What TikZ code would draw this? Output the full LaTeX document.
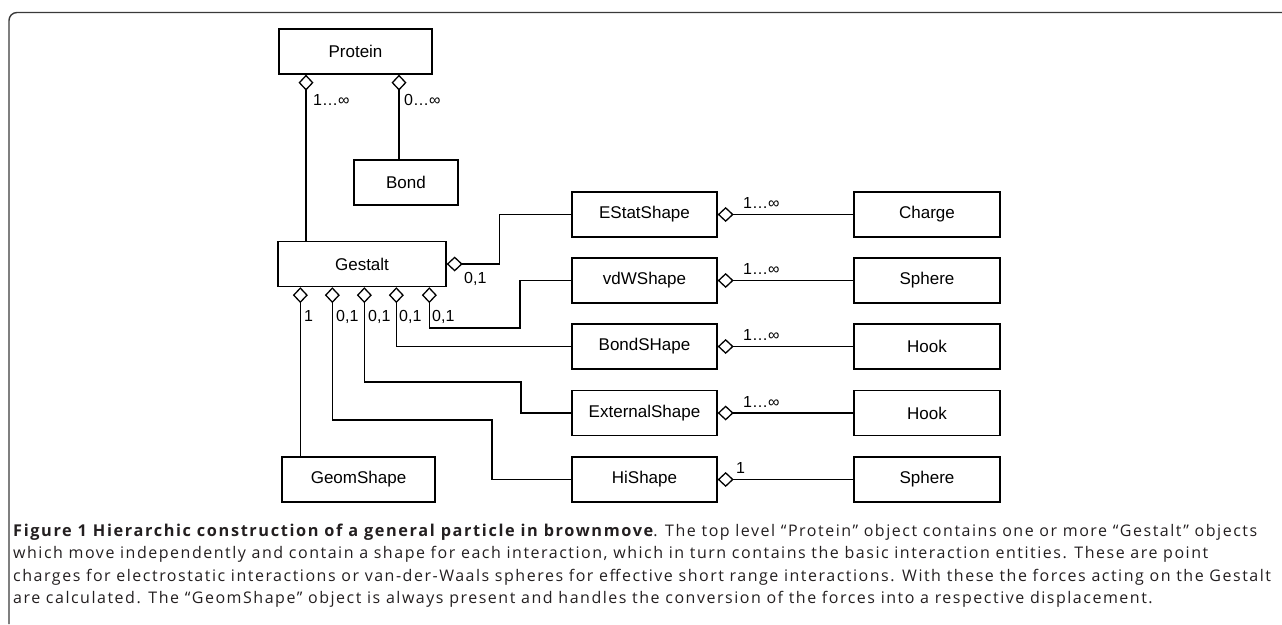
\documentclass[tikz,border=0pt]{standalone}
\usepackage{fontspec}
\setmainfont{Liberation Sans}
\newfontfamily\capfont[LetterSpace=9.5]{Open Sans}
\newfontfamily\capbold[LetterSpace=10]{Open Sans Bold}
\usetikzlibrary{arrows.meta}
\definecolor{framecol}{HTML}{3A3A3A}
\definecolor{captext}{HTML}{231F20}
\begin{document}
\begin{tikzpicture}[x=1pt,y=-1pt,
  box/.style={draw=black, line width=1.3pt, minimum height=45pt, inner sep=0pt, font=\fontsize{17}{20}\selectfont},
  agg/.style={line width=1.3pt, {Diamond[open,length=16pt,width=15pt]}-},
  lab/.style={font=\fontsize{16}{19}\selectfont, inner sep=0pt, anchor=base west},
  capline/.style={anchor=base west, inner sep=0pt, text=captext, font=\capfont\fontsize{16}{20}\selectfont}
]
\useasboundingbox (0,0) rectangle (1282,624);
% frame
\draw[framecol, line width=1.4pt, rounded corners=8pt] (9,624) -- (9,12.5) -- (1282,12.5);

% nodes
\node[box, minimum width=153pt] (protein) at (355.5,51.5) {Protein};
\node[box, minimum width=104pt] (bond) at (406,182.5) {Bond};
\node[box, minimum width=168pt] (gestalt) at (362,264) {Gestalt};
\node[box, minimum width=153pt] (geom) at (358.5,479.5) {GeomShape};

\node[box, minimum width=145pt] (estat) at (644.5,214.5) {EStatShape};
\node[box, minimum width=145pt] (vdw) at (644.5,280.5) {vdWShape};
\node[box, minimum width=145pt] (bshape) at (644.5,346.5) {BondSHape};
\node[box, minimum width=145pt] (ext) at (644.5,413) {ExternalShape};
\node[box, minimum width=145pt] (hi) at (644.5,479.5) {HiShape};

\node[box, minimum width=146pt] (charge) at (927,214.5) {Charge};
\node[box, minimum width=146pt] (sphereA) at (927,280.5) {Sphere};
\node[box, minimum width=146pt] (hookA) at (927,346.5) {Hook};
\node[box, minimum width=146pt] (hookB) at (927,413) {Hook};
\node[box, minimum width=146pt] (sphereB) at (927,479.5) {Sphere};

% connectors
\draw[agg] ([xshift=-49.5pt]protein.south) -- ([xshift=-49.5pt]protein.south |- gestalt.north);
\draw[agg] ([xshift=43.5pt]protein.south) -- ([xshift=43.5pt]protein.south |- bond.north);
\draw[agg] (gestalt.east) -- ++(53,0) |- (estat.west);
\draw[agg] ([xshift=23pt]gestalt.south west) -- ([xshift=23pt]gestalt.south west |- geom.north);
\draw[agg] ([xshift=152pt]gestalt.south west) |- (520,328) |- (vdw.west);
\draw[agg] ([xshift=119pt]gestalt.south west) |- (bshape.west);
\draw[agg] ([xshift=87pt]gestalt.south west) |- (521,382) |- (ext.west);
\draw[agg] ([xshift=55pt]gestalt.south west) |- (492,420) |- (hi.west);

\draw[agg] (estat.east) -- (charge.west);
\draw[agg] (vdw.east) -- (sphereA.west);
\draw[agg] (bshape.east) -- (hookA.west);
\draw[agg] (ext.east) -- (hookB.west);
\draw[agg] (hi.east) -- (sphereB.west);

% multiplicity labels
\node[lab] (mPG) at (313,105.5) {1…∞};
\node[lab] (mPB) at (404,105.5) {0…∞};
\node[lab] (mGE) at (464,283.5) {0,1};
\node[lab] (mG1) at (304,321.5) {1};
\node[lab] (mG2) at (336,321.5) {0,1};
\node[lab] (mG3) at (368,321.5) {0,1};
\node[lab] (mG4) at (399,321.5) {0,1};
\node[lab] (mG5) at (432,321.5) {0,1};
\node[lab] (mEC) at (743,208.5) {1…∞};
\node[lab] (mVS) at (743,274.5) {1…∞};
\node[lab] (mBH) at (743,340.5) {1…∞};
\node[lab] (mXH) at (743,407) {1…∞};
\node[lab] (mHS) at (736,473.5) {1};

% caption
\node[capline] (cap1) at (13,536) {{\capbold\fontsize{16.3}{20}\selectfont Figure 1 Hierarchic construction of a general particle in brownmove}. The top level “Protein” object contains one or more “Gestalt” objects};
\node[capline] (cap2) at (13,558.5) {which move independently and contain a shape for each interaction, which in turn contains the basic interaction entities. These are point};
\node[capline] (cap3) at (13,581) {charges for electrostatic interactions or van-der-Waals spheres for effective short range interactions. With these the forces acting on the Gestalt};
\node[capline] (cap4) at (13,603.5) {are calculated. The “GeomShape” object is always present and handles the conversion of the forces into a respective displacement.};
\end{tikzpicture}
\end{document}
